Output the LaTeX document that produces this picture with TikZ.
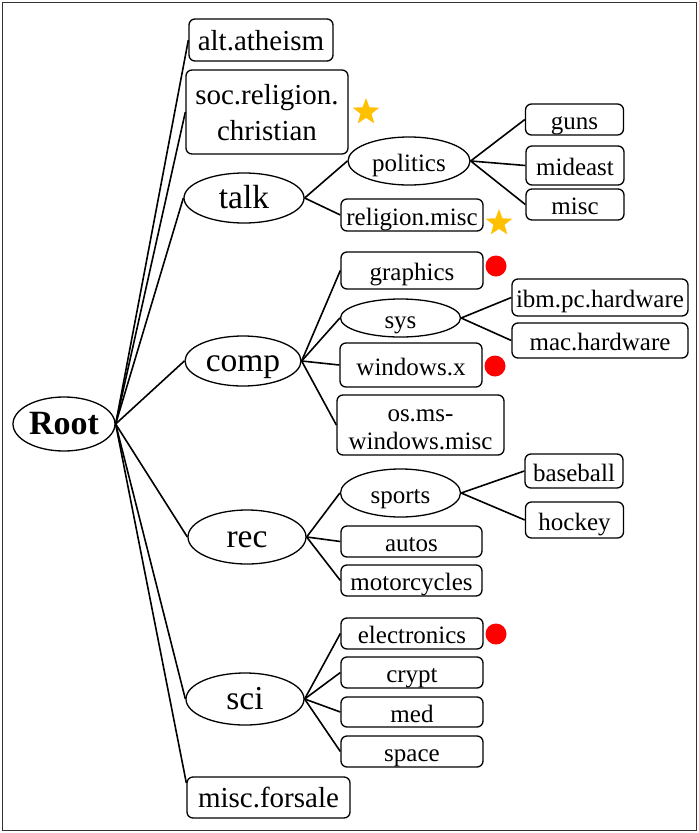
\documentclass[tikz,border=0pt]{standalone}
\usepackage{fontspec}
\setmainfont{Liberation Serif}
\usetikzlibrary{shapes.geometric}
\definecolor{stargold}{HTML}{FFC000}
\definecolor{dotred}{HTML}{FF0000}
\definecolor{framegray}{HTML}{333333}
\begin{document}
\begin{tikzpicture}[x=1pt,y=-1pt,
 box/.style={draw, rounded corners=6pt, line width=1.3pt, inner sep=0pt, align=center},
 ell/.style={draw, ellipse, line width=1.3pt, inner sep=0pt},
 oneline/.style={text height=22pt, text depth=2pt},
 big/.style={font=\fontsize{33.5}{38}\selectfont, oneline},
 mid/.style={font=\fontsize{29}{36}\selectfont},
 sml/.style={font=\fontsize{25}{28}\selectfont},
 conn/.style={line width=1.6pt},
 staricon/.style={star, star points=5, star point ratio=2.4, fill=stargold, inner sep=0pt, minimum size=28pt},
 doticon/.style={circle, fill=dotred, inner sep=0pt, minimum size=21pt}]
\useasboundingbox (0,0) rectangle (699,833);
\draw[framegray, line width=1.8pt] (2.5,2.5) rectangle (696.5,830.5);

% root
\node[ell, oneline, minimum width=102pt, minimum height=54pt, font=\fontsize{34}{38}\selectfont\bfseries] (root) at (64,424) {Root};

% level 1
\node[box, mid, oneline, minimum width=144pt, minimum height=42pt] (alt) at (261,40) {alt.atheism};
\node[box, mid, text height=58pt, text depth=2pt, minimum width=162pt, minimum height=84pt] (soc) at (267,112) {soc.religion.\\christian};
\node[ell, big, minimum width=120pt, minimum height=50pt] (talk) at (244,198) {talk};
\node[ell, big, minimum width=116pt, minimum height=50pt] (comp) at (243,361) {comp};
\node[ell, big, minimum width=118pt, minimum height=54pt] (rec) at (247,537) {rec};
\node[ell, big, minimum width=118pt, minimum height=52pt] (sci) at (245,699) {sci};
\node[box, mid, oneline, minimum width=163pt, minimum height=41pt] (mf) at (268.5,797.5) {misc.forsale};

% talk subtree
\node[ell, sml, oneline, minimum width=122pt, minimum height=48pt] (pol) at (409,161) {politics};
\node[box, sml, oneline, minimum width=142pt, minimum height=32pt] (relm) at (412,215) {religion.misc};
\node[box, sml, oneline, minimum width=98pt, minimum height=31pt] (guns) at (574.5,119.5) {guns};
\node[box, sml, oneline, minimum width=98pt, minimum height=39pt] (mide) at (575,165.5) {mideast};
\node[box, sml, oneline, minimum width=98pt, minimum height=31pt] (misc) at (575,204.5) {misc};

% comp subtree
\node[box, sml, oneline, minimum width=142pt, minimum height=37pt] (gra) at (412,270.5) {graphics};
\node[ell, sml, oneline, minimum width=120pt, minimum height=38pt] (sys) at (400.5,318) {sys};
\node[box, sml, oneline, minimum width=176pt, minimum height=37pt] (ibm) at (600,297.5) {ibm.pc.hardware};
\node[box, sml, oneline, minimum width=176pt, minimum height=35pt] (mac) at (600,340.5) {mac.hardware};
\node[box, sml, oneline, minimum width=142pt, minimum height=44pt] (winx) at (411,365) {windows.x};
\node[box, sml, text height=50pt, text depth=2pt, minimum width=167pt, minimum height=60pt] (osms) at (420.5,425) {os.ms-\\windows.misc};

% rec subtree
\node[ell, sml, oneline, minimum width=120pt, minimum height=48pt] (spo) at (400.5,493) {sports};
\node[box, sml, oneline, minimum width=98pt, minimum height=34pt] (base) at (574,471) {baseball};
\node[box, sml, oneline, minimum width=98pt, minimum height=36pt] (hock) at (574.5,520) {hockey};
\node[box, sml, oneline, minimum width=141pt, minimum height=31pt] (autos) at (411.5,541.5) {autos};
\node[box, sml, oneline, minimum width=141pt, minimum height=31pt] (moto) at (411.5,580.5) {motorcycles};

% sci subtree
\node[box, sml, oneline, minimum width=142pt, minimum height=31pt] (elec) at (412,633.5) {electronics};
\node[box, sml, oneline, minimum width=142pt, minimum height=31pt] (cryp) at (412,672.5) {crypt};
\node[box, sml, oneline, minimum width=142pt, minimum height=30pt] (med) at (412,712) {med};
\node[box, sml, oneline, minimum width=142pt, minimum height=31pt] (spac) at (412,751.5) {space};

% markers
\node[staricon] (s1) at (366,112) {};
\node[staricon] (s2) at (499,223) {};
\node[doticon] (d1) at (496,266) {};
\node[doticon] (d2) at (495,366) {};
\node[doticon] (d3) at (496,634) {};

% connectors
\draw[conn] (root.east) -- (alt.west);
\draw[conn] (root.east) -- (soc.west);
\draw[conn] (root.east) -- (talk.west);
\draw[conn] (root.east) -- (comp.west);
\draw[conn] (root.east) -- (rec.west);
\draw[conn] (root.east) -- (sci.west);
\draw[conn] (root.east) -- (mf.170);

\draw[conn] (talk.east) -- (pol.west);
\draw[conn] (talk.east) -- (relm.west);
\draw[conn] (pol.east) -- (guns.west);
\draw[conn] (pol.east) -- (mide.west);
\draw[conn] (pol.east) -- (misc.west);

\draw[conn] (comp.east) -- (gra.west);
\draw[conn] (comp.east) -- (sys.west);
\draw[conn] (comp.east) -- (winx.west);
\draw[conn] (comp.east) -- (osms.west);
\draw[conn] (sys.east) -- (ibm.west);
\draw[conn] (sys.east) -- (mac.west);

\draw[conn] (rec.east) -- (spo.west);
\draw[conn] (rec.east) -- (autos.west);
\draw[conn] (rec.east) -- (moto.west);
\draw[conn] (spo.east) -- (base.west);
\draw[conn] (spo.east) -- (hock.west);

\draw[conn] (sci.east) -- (elec.west);
\draw[conn] (sci.east) -- (cryp.west);
\draw[conn] (sci.east) -- (med.west);
\draw[conn] (sci.east) -- (spac.west);
\end{tikzpicture}
\end{document}
